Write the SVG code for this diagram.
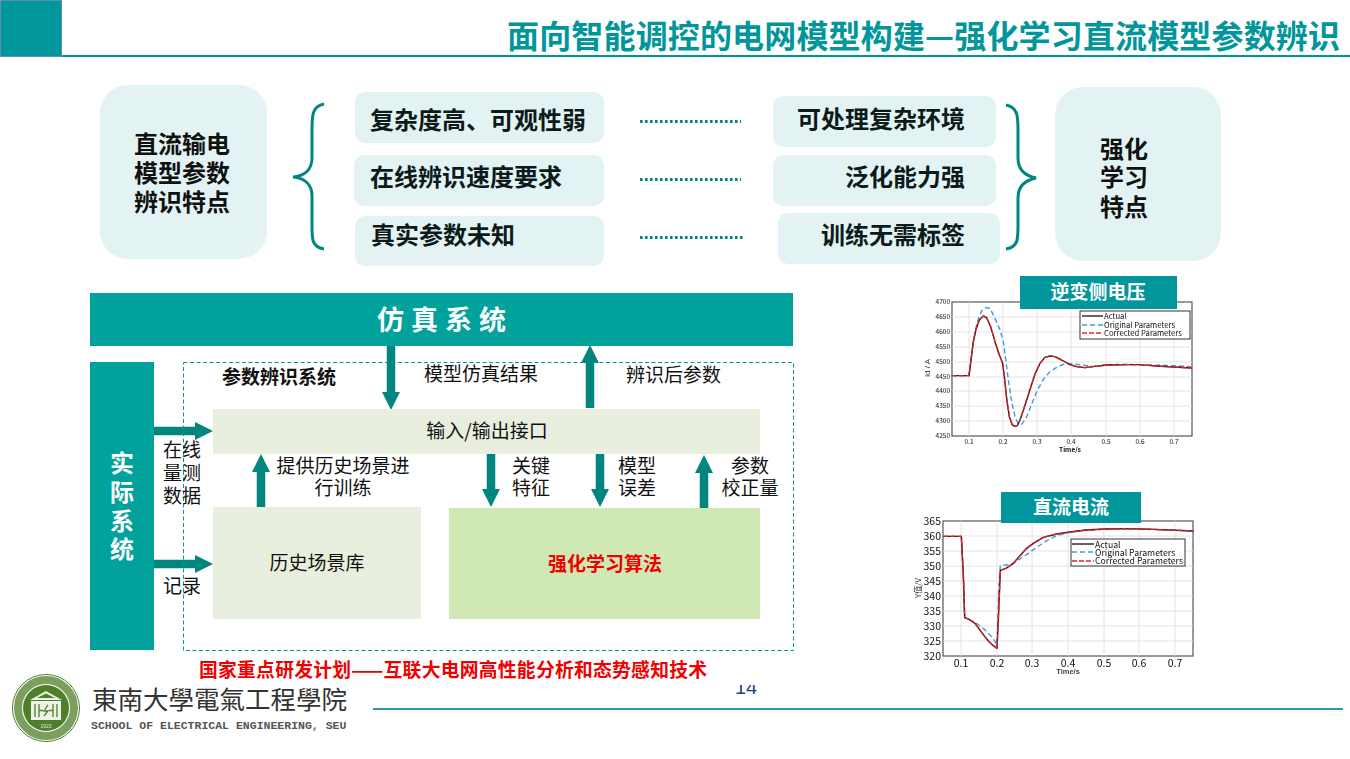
<svg xmlns="http://www.w3.org/2000/svg" width="1350" height="759" viewBox="0 0 1350 759">
<style>
text{font-family:"Noto Sans CJK SC","Liberation Sans",sans-serif;fill:#111}
.b{font-weight:700}
.c{text-anchor:middle}
.soft{fill:#e3f3f4}
.teal{fill:#00a29b}
.pale{fill:#e9efdf}
.lab{font-size:19px}
.item{font-size:24px;font-weight:700;fill:#0d1a1a}
.ar{stroke:#00857f;stroke-width:8.500;fill:none}
.arh{fill:#00857f}
.brace{fill:none;stroke:#00857f;stroke-width:3}
.dots{stroke:#00857f;stroke-width:3;stroke-dasharray:2.600 2.400;fill:none}
.chh{fill:#00969b}
.cht{font-size:19px;font-weight:700;fill:#fff;text-anchor:middle}
.ax{font-family:"Liberation Sans",sans-serif;font-size:6.500px;fill:#555}
.ax2{font-family:"Liberation Sans",sans-serif;font-size:10.500px;fill:#333}
.leg{font-family:"Liberation Sans",sans-serif;fill:#333}
.grid{stroke:#ddd;stroke-width:.8}
.act,.org,.cor{fill:none;vector-effect:non-scaling-stroke;stroke-linejoin:round}
.act{stroke:#222;stroke-width:1.400}
.org{stroke:#3f9bdc;stroke-width:1.400;stroke-dasharray:5 3}
.cor{stroke:#f01c24;stroke-width:1.400;stroke-dasharray:5 2}
.frame{fill:#fff;stroke:#555;stroke-width:1.200}
.lg{fill:#fff;stroke:#333;stroke-width:1}
</style>
<defs>
<filter id="bl" x="-5%" y="-5%" width="110%" height="110%"><feGaussianBlur stdDeviation="0.400"/></filter>
<filter id="bl2" x="-5%" y="-5%" width="110%" height="110%"><feGaussianBlur stdDeviation="0.300"/></filter>
</defs>
<rect width="1350" height="759" fill="#fff"/>

<g id="header">
<rect x="0.500" y="0.500" width="61" height="56" fill="#00969b" stroke="#5f8fb0" stroke-width="1"/>
<rect x="62" y="55" width="1288" height="2" fill="#00969b"/>
<text x="507" y="48" textLength="833" class="b" font-size="32" style="fill:#00969b">面向智能调控的电网模型构建—强化学习直流模型参数辨识</text>
</g>

<g id="left-feature">
<rect x="100" y="85" width="167" height="174" rx="28" class="soft"/>
<text x="182" y="153" class="c b" font-size="24">直流输电</text>
<text x="182" y="182" class="c b" font-size="24">模型参数</text>
<text x="182" y="211" class="c b" font-size="24">辨识特点</text>
</g>
<g id="right-feature">
<rect x="1055" y="87" width="166" height="174" rx="28" class="soft"/>
<text x="1124" y="158" class="c b" font-size="24">强化</text>
<text x="1124" y="186" class="c b" font-size="24">学习</text>
<text x="1124" y="216" class="c b" font-size="24">特点</text>
</g>

<g id="items-left">
<g id="item-l1"><rect x="355" y="92" width="249" height="51" rx="10" class="soft"/><text x="370" y="129" class="item">复杂度高、可观性弱</text></g>
<g id="item-l2"><rect x="354" y="155" width="250" height="51" rx="10" class="soft"/><text x="370" y="186" class="item">在线辨识速度要求</text></g>
<g id="item-l3"><rect x="355" y="216" width="249" height="50" rx="10" class="soft"/><text x="371" y="244" class="item">真实参数未知</text></g>
</g>
<g id="items-right">
<g id="item-r1"><rect x="773" y="96" width="223" height="51" rx="10" class="soft"/><text x="797" y="128" class="item">可处理复杂环境</text></g>
<g id="item-r2"><rect x="773" y="155" width="223" height="51" rx="10" class="soft"/><text x="845" y="186" class="item">泛化能力强</text></g>
<g id="item-r3"><rect x="778" y="213" width="222" height="51" rx="10" class="soft"/><text x="821" y="244" class="item">训练无需标签</text></g>
</g>

<g id="braces">
<path class="brace" d="M324 104C311 106 312 118 312 134V158C312 170 304 176 293 177C304 178 312 184 312 196V222C312 238 311 247 324 249"/>
<path class="brace" d="M1006 105C1019 107 1018 119 1018 135V158C1018 170 1026 176 1036 178C1026 180 1018 186 1018 198V222C1018 238 1019 247 1006 249"/>
</g>

<g id="connectors">
<path class="dots" d="M640 121.500H741M640 179.500H741M640 237.500H744"/>
<path class="ar" d="M391 346V393"/><path class="arh" d="M382 392H400L391 410Z"/>
<path class="ar" d="M590 408V362"/><path class="arh" d="M581 363H599L590 345Z"/>
<path class="ar" d="M153 431H196"/><path class="arh" d="M195 422L213 431L195 440Z"/>
<path class="ar" d="M153 564H196"/><path class="arh" d="M195 555L213 564L195 573Z"/>
<path class="ar" d="M261 507V470"/><path class="arh" d="M252 472H270L261 454Z"/>
<path class="ar" d="M491 454V490"/><path class="arh" d="M482 489H500L491 507Z"/>
<path class="ar" d="M600 454V490"/><path class="arh" d="M591 489H609L600 507Z"/>
<path class="ar" d="M704 508V472"/><path class="arh" d="M695 473H713L704 455Z"/>
</g>

<g id="sim-system"><rect x="90" y="293" width="703" height="53" class="teal"/><text x="445" y="330" class="c b" font-size="27" letter-spacing="7" style="fill:#fff">仿真系统</text></g>
<g id="real-system"><rect x="90" y="362" width="64" height="288" class="teal"/>
<text x="122" y="472" class="c b" font-size="24" style="fill:#fff">实</text>
<text x="122" y="501" class="c b" font-size="24" style="fill:#fff">际</text>
<text x="122" y="530" class="c b" font-size="24" style="fill:#fff">系</text>
<text x="122" y="558" class="c b" font-size="24" style="fill:#fff">统</text></g>

<g id="param-system">
<rect x="183.500" y="362.500" width="610" height="288" fill="none" stroke="#00969b" stroke-width="1" stroke-dasharray="4 2.500"/>
<text x="222" y="384" class="b lab">参数辨识系统</text>
</g>
<g id="io"><rect x="213" y="409" width="547" height="45" class="pale"/><text x="487" y="438" class="c lab">输入/输出接口</text></g>
<g id="history"><rect x="213" y="507" width="208" height="112" class="pale"/><text x="317" y="570" class="c lab">历史场景库</text></g>
<g id="rl"><rect x="449" y="508" width="311" height="111" fill="#d0e9b4"/><text x="605" y="571" class="c b lab" style="fill:#f00000">强化学习算法</text></g>

<g id="labels">
<text x="424" y="381" class="lab">模型仿真结果</text>
<text x="626" y="382" class="lab">辨识后参数</text>
<text x="182" y="457" class="c lab">在线</text><text x="182" y="480" class="c lab">量测</text><text x="182" y="503" class="c lab">数据</text>
<text x="182" y="593" class="c lab">记录</text>
<text x="343" y="473" class="c lab">提供历史场景进</text><text x="343" y="495" class="c lab">行训练</text>
<text x="531" y="473" class="c lab">关键</text><text x="531" y="495" class="c lab">特征</text>
<text x="637" y="473" class="c lab">模型</text><text x="637" y="495" class="c lab">误差</text>
<text x="750" y="473" class="c lab">参数</text><text x="750" y="495" class="c lab">校正量</text>
</g>

<g id="chart-1" filter="url(#bl)">
<rect x="952" y="302" width="240" height="134" class="frame"/>
<path class="grid" d="M969 302V436M1003 302V436M1037 302V436M1071 302V436M1106 302V436M1140 302V436M1174 302V436M952 317H1192M952 332H1192M952 347H1192M952 362H1192M952 377H1192M952 391H1192M952 406H1192M952 421H1192"/>
<g class="ax" text-anchor="end"><text x="950" y="304">4700</text><text x="950" y="319">4650</text><text x="950" y="334">4600</text><text x="950" y="349">4550</text><text x="950" y="364">4500</text><text x="950" y="379">4450</text><text x="950" y="393">4400</text><text x="950" y="408">4350</text><text x="950" y="423">4300</text><text x="950" y="438">4250</text></g>
<g class="ax" text-anchor="middle"><text x="969" y="444">0.1</text><text x="1003" y="444">0.2</text><text x="1037" y="444">0.3</text><text x="1071" y="444">0.4</text><text x="1106" y="444">0.5</text><text x="1140" y="444">0.6</text><text x="1174" y="444">0.7</text><text x="1070" y="452" font-weight="700">Time/s</text></g>
<text transform="translate(930 368) rotate(-90)" text-anchor="middle" style="font-family:'Liberation Sans',sans-serif;font-size:8px;fill:#333">Id / A</text>
<g transform="translate(900 270) scale(.33333)">
<polyline class="org" points="155,317 207,317 213,270 222,205 232,155 245,122 258,113 270,115 285,145 300,180 310,215 318,275 325,330 335,395 345,440 355,462 365,463 378,445 392,410 410,365 430,328 450,305 470,292 490,283 515,281 545,285 580,289 620,285 680,283 720,285 800,286 875,290"/>
<polyline class="act" points="155,317 207,317 213,270 220,215 228,178 238,150 250,138 260,143 272,170 285,215 298,255 308,280 313,320 320,385 328,440 337,465 345,469 352,467 360,450 372,415 388,365 405,312 420,280 435,262 450,258 465,260 485,270 510,284 530,290 555,293 585,289 620,285 680,284 720,284 770,288 820,291 875,294"/>
<polyline class="cor" points="155,317 207,317 213,270 220,215 228,178 238,150 250,138 260,143 272,170 285,215 298,255 308,280 313,320 320,385 328,440 337,465 345,469 352,467 360,450 372,415 388,365 405,312 420,280 435,262 450,258 465,260 485,270 510,284 530,290 555,293 585,289 620,285 680,284 720,284 770,288 820,291 875,294"/>
</g>
<rect x="1080" y="311" width="110" height="28" class="lg"/>
<path class="act" d="M1082 316H1103"/><path class="org" d="M1082 325H1103"/><path class="cor" d="M1082 333H1103"/>
<g class="leg" font-size="7.700"><text x="1104" y="319">Actual</text><text x="1104" y="327.500">Original Parameters</text><text x="1104" y="336">Corrected Parameters</text></g>
</g>
<g id="chart-1-title"><rect x="1020" y="276" width="157" height="33" class="chh"/><text x="1098" y="299" class="cht">逆变侧电压</text></g>

<g id="chart-2" filter="url(#bl2)">
<rect x="943" y="521" width="250" height="135" class="frame"/>
<path class="grid" d="M961 521V656M997 521V656M1032 521V656M1068 521V656M1104 521V656M1139 521V656M1175 521V656M943 536H1193M943 551H1193M943 566H1193M943 581H1193M943 596H1193M943 611H1193M943 626H1193M943 641H1193"/>
<g class="ax2" text-anchor="end"><text x="941" y="524.500">365</text><text x="941" y="539.500">360</text><text x="941" y="554.500">355</text><text x="941" y="569.500">350</text><text x="941" y="584.500">345</text><text x="941" y="599.500">340</text><text x="941" y="614.500">335</text><text x="941" y="629.500">330</text><text x="941" y="644.500">325</text><text x="941" y="659.500">320</text></g>
<g class="ax2" text-anchor="middle"><text x="961" y="667">0.1</text><text x="997" y="667">0.2</text><text x="1032" y="667">0.3</text><text x="1068" y="667">0.4</text><text x="1104" y="667">0.5</text><text x="1139" y="667">0.6</text><text x="1175" y="667">0.7</text></g>
<text x="1068" y="674" text-anchor="middle" style="font-family:'Liberation Sans',sans-serif;font-size:7.500px;font-weight:700;fill:#444">Time/s</text>
<text transform="translate(921 588) rotate(-90)" text-anchor="middle" style="font-size:8px;fill:#333">Y值/V</text>
<g transform="translate(900 485) scale(.33333)">
<polyline class="org" points="130,154 184,154 190,270 194,398 205,402 225,412 250,430 275,455 291,478 297,300 301,242 315,240 335,238 360,222 385,205 410,187 440,167 470,152 510,142 560,135 620,132 680,131 760,133 880,138"/>
<polyline class="act" points="130,154 184,154 190,270 194,398 205,402 225,415 245,442 265,468 280,482 291,490 296,380 301,256 318,250 340,235 360,212 380,190 400,175 430,157 470,147 510,141 560,135 620,132 680,131 760,133 880,138"/>
<polyline class="cor" points="130,154 184,154 190,270 194,398 205,402 225,415 245,442 265,468 280,482 291,490 296,380 301,256 318,250 340,235 360,212 380,190 400,175 430,157 470,147 510,141 560,135 620,132 680,131 760,133 880,138"/>
</g>
<rect x="1071" y="539" width="114" height="27" class="lg"/>
<path class="act" d="M1072 544H1094"/><path class="org" d="M1072 552H1094"/><path class="cor" d="M1072 561H1094"/>
<g class="leg" font-size="8.700"><text x="1095" y="547.500">Actual</text><text x="1095" y="555.500">Original Parameters</text><text x="1095" y="564">Corrected Parameters</text></g>
</g>
<g id="chart-2-title"><rect x="1001" y="492" width="140" height="31" class="chh"/><text x="1071" y="514" class="cht">直流电流</text></g>

<g id="footer">
<text x="746" y="693.500" class="c" font-size="20" style="font-family:'Liberation Sans',sans-serif;fill:#1f3f8f">14</text>
<rect x="725" y="676" width="40" height="9" fill="#fff"/>
<text x="199" y="677" textLength="508" class="b" font-size="18.800" style="fill:#f00000">国家重点研发计划——互联大电网高性能分析和态势感知技术</text>
<rect x="373" y="708" width="970" height="2" fill="#2a9aa5"/>
</g>

<g id="logo">
<g filter="url(#bl2)">
<circle cx="46" cy="708" r="33.500" fill="#fff" stroke="#4f7f2a" stroke-width="1"/>
<circle cx="46" cy="708" r="28" fill="none" stroke="#4f7f2a" stroke-width="8" stroke-opacity=".75"/>
<circle cx="46" cy="708" r="23" fill="#4f7f2a"/>
<path d="M30 700L46 691L62 700Z" fill="#eef3e8"/>
<path d="M37 698L46 693.500L55 698Z" fill="#4f7f2a"/>
<rect x="31" y="701" width="30" height="19" fill="#eef3e8"/>
<path d="M35 704V717M39 704V717M53 704V717M57 704V717M39 710.500H43M49 710.500H53M48 705L44 711H48L44 716" stroke="#4f7f2a" stroke-width="1.300" fill="none"/>
<text x="46" y="728" class="c" style="font-family:'Liberation Sans',sans-serif;font-size:5px;fill:#dfe9d4">1923</text>
</g>
<text x="92" y="709" font-size="25.500" style="font-family:'Noto Sans CJK TC',serif;fill:#333">東南大學電氣工程學院</text>
<text x="91" y="729" font-size="11.500" class="b" style="font-family:'Liberation Mono',monospace;fill:#555">SCHOOL OF ELECTRICAL ENGINEERING, SEU</text>
</g>
</svg>
